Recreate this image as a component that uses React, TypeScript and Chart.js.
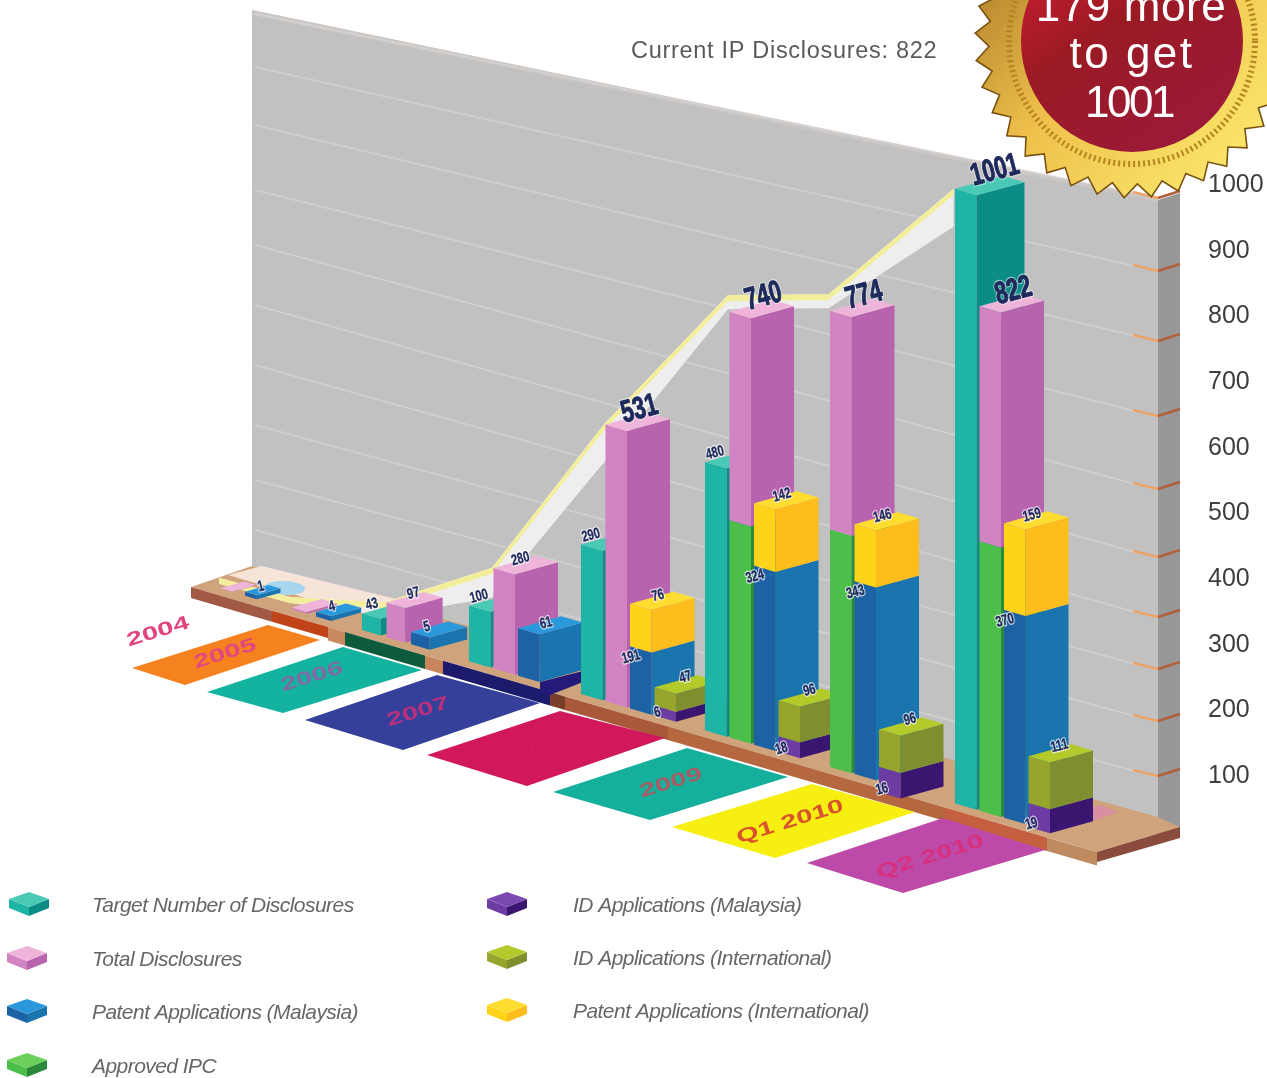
import React, { useEffect, useRef } from "react";
import { Chart, registerables } from "chart.js";

Chart.register(...registerables);

// ---------- data ----------
const categories = ["2004", "2005", "2006", "2007", "2008", "2009", "Q1 2010", "Q2 2010"];
const targetDisclosures = [null, null, 43, 100, 290, 480, null, 1001];
const totalDisclosures = [1, 4, 97, 280, 531, 740, 774, 822];
const approvedIpc = [0, 0, 0, 0, 0, 385, 405, 435];
const patentMalaysia = [1, 4, 5, 61, 191, 324, 343, 370];
const patentInternational = [null, null, null, null, 76, 142, 146, 159];
const idMalaysia = [null, null, null, null, 6, 18, 16, 19];
const idInternational = [null, null, null, null, 47, 96, 96, 111];
const milestoneLine = [1, 4, 97, 280, 531, 740, 774, 1001];
const yTickValues = [100, 200, 300, 400, 500, 600, 700, 800, 900, 1000];
const titleText = "Current IP Disclosures: 822";
const badgeLines = ["179 more", "to get", "1001"];

// ---------- drawing configuration (the picture is hand-drawn, several blocks are not to scale) ----------
const T = { left: "#1fb5a6", right: "#0c8c86", top: "#49c9b6" };
const P = { left: "#d283c1", right: "#b863ad", top: "#eeb4da" };
const G = { left: "#4bbf4a", right: "#2b8a3a", top: "#6ccf5a" };
const B = { left: "#1d62a4", right: "#1a74ad", top: "#2b98dc" };
const Y = { left: "#ffd31a", right: "#fdbd1d", top: "#ffdc30" };
const V = { left: "#6d3ca2", right: "#3b1670", top: "#7b4ab0" };
const O = { left: "#98a52c", right: "#7f8f30", top: "#b4c92a" };

const drawScale: Record<string, number[]> = {
  target: [1, 1, 0.8, 1.1, 0.97, 1, 1, 1],
  ipc: [1, 1, 1, 1, 1, 1, 1, 1],
  total: [1, 1, 0.73, 0.7, 0.97, 1.04, 1.01, 0.98],
  patM: [9, 2.5, 5, 1.5, 0.6, 0.97, 0.95, 0.9],
  patI: [1, 1, 1, 1, 1.03, 0.77, 0.66, 0.87],
  idM: [1, 1, 1, 1, 3.1, 1.5, 2.66, 2],
  idI: [1, 1, 1, 1, 0.7, 0.65, 0.65, 0.67],
};
const idBaseShift = [0, 0, 0, 0, 0, 0, 11, 2];
const ribbonLift = [10, 10, 0, 0, 0, 8, 14, 0];
const ribbonDrop = [6, 6, 14, 30, 38, 14, 14, 38];
const catAnchor = [245, 316, 411, 518, 630, 754, 854.5, 1004];
const catDepth = [0.55, 0.7, 0.87, 1, 1, 1, 1, 1];

const patches: [string, number[][]][] = [
  ["rgba(0,0,0,0)", [[0, 0], [0, 0], [0, 0], [0, 0]]],
  ["#f5821f", [[132, 668], [268, 625], [320, 640], [185, 685]]],
  ["#14b3a0", [[207, 692], [343, 647], [422, 670], [283, 713]]],
  ["#35409a", [[305, 720], [437, 675], [540, 703], [403, 750]]],
  ["#d0185a", [[427, 755], [560, 711], [665, 738], [527, 786]]],
  ["#14b09c", [[553, 792], [687, 748], [788, 777], [650, 820]]],
  ["#f7ee12", [[672, 827], [812, 784], [915, 812], [775, 858]]],
  ["#bd4aa8", [[807, 863], [943, 818], [1045, 850], [903, 893]]],
];
const patchText: [number, number, string][] = [
  [158, 632, "#e0457f"],
  [225, 654, "#e2487f"],
  [312, 677, "#7f6aa4"],
  [418, 712, "#b8307e"],
  [545, 748, "#d21a5c"],
  [671, 783, "#a85c66"],
  [790, 822, "#d8522c"],
  [930, 857, "#d8307e"],
];
const stripSegs: [number, number, string][] = [
  [191, 272, "#a35a45"], [272, 328, "#c0431a"], [328, 345, "#c98a60"], [345, 425, "#0e5a3c"],
  [425, 443, "#c8855c"], [443, 550, "#1c1a6a"], [550, 565, "#7a3f2a"], [565, 668, "#a9583a"],
  [668, 945, "#b5673f"], [945, 1047, "#c4603f"], [1047, 1097, "#c08a60"],
];
const wallTickY = [775, 720, 668, 616, 556, 488, 415, 340, 270, 197];
const wallLeftY = [530, 480, 425, 365, 305, 245, 190, 125, 67, 14];

const edgeY = (x: number) => 587 + 0.2925 * (x - 191);
const baseY = (x: number) => edgeY(x) - 7;
const unitPx = (x: number) => 0.614 - 0.00022 * (955 - x);
const FONT = '"Liberation Sans", Arial, sans-serif';

function poly(ctx: CanvasRenderingContext2D, pts: number[][], fill: string) {
  ctx.beginPath();
  pts.forEach((p, i) => (i ? ctx.lineTo(p[0], p[1]) : ctx.moveTo(p[0], p[1])));
  ctx.closePath();
  ctx.fillStyle = fill;
  ctx.fill();
}

function valueLabel(ctx: CanvasRenderingContext2D, s: string, x: number, y: number, big: boolean) {
  ctx.save();
  ctx.translate(x, y);
  ctx.rotate(-0.26);
  if (big) {
    ctx.scale(0.92, 1.3);
    ctx.font = `bold 24px ${FONT}`;
  } else {
    ctx.scale(0.92, 1.25);
    ctx.font = `bold 12px ${FONT}`;
  }
  ctx.textAlign = "center";
  ctx.textBaseline = "middle";
  ctx.lineJoin = "round";
  ctx.strokeStyle = big ? "rgba(255,255,255,0.5)" : "rgba(255,255,255,0.7)";
  ctx.lineWidth = big ? 2.6 : 2.4;
  ctx.strokeText(s, 0, 0);
  ctx.strokeStyle = "#1e2a5c";
  ctx.lineWidth = big ? 0.8 : 0.25;
  ctx.strokeText(s, 0, 0);
  ctx.fillStyle = "#1e2a5c";
  ctx.fillText(s, 0, 0);
  ctx.restore();
}

const scenePlugin = {
  id: "scene",
  beforeDatasetsDraw(chart: any) {
    const ctx: CanvasRenderingContext2D = chart.ctx;
    const yS = chart.scales.y;
    const xS = chart.scales.x;
    const zero = yS.getPixelForValue(0);
    const flatUnit = (zero - yS.getPixelForValue(1000)) / 1000;
    const toH = (flat: number, x: number) => (flat / flatUnit) * unitPx(x);

    // wall
    poly(ctx, [[252, 10], [1158, 200], [1158, 820], [252, 566]], "#c1c1c1");
    poly(ctx, [[252, 10], [1158, 198], [1158, 202], [252, 15]], "#cdc7c4");
    poly(ctx, [[1158, 200], [1180, 193], [1180, 827], [1158, 834]], "#989898");
    // grid lines follow the y axis ticks
    yS.ticks.forEach((t: any) => {
      const idx = yTickValues.indexOf(t.value);
      if (idx < 0) return;
      ctx.beginPath();
      ctx.moveTo(255, wallLeftY[idx]);
      ctx.lineTo(1135, wallTickY[idx] - 4);
      ctx.strokeStyle = "rgba(215,215,215,0.6)";
      ctx.lineWidth = 2;
      ctx.stroke();
      ctx.beginPath();
      ctx.moveTo(1133, wallTickY[idx] - 5);
      ctx.lineTo(1158, wallTickY[idx] + 1);
      ctx.strokeStyle = "#eda468";
      ctx.lineWidth = 2.6;
      ctx.stroke();
      ctx.beginPath();
      ctx.moveTo(1158, wallTickY[idx] + 1);
      ctx.lineTo(1180, wallTickY[idx] - 6);
      ctx.strokeStyle = "#b0603a";
      ctx.stroke();
    });

    // floor
    poly(ctx, [[191, 587], [252, 566], [1158, 817], [1180, 827], [1097, 852]], "#cfa37c");
    poly(ctx, [[1097, 852], [1180, 827], [1180, 838], [1097, 862]], "#8a4a3c");
    poly(ctx, [[228, 575], [262, 566], [412, 603], [350, 611]], "#f6e4d8");
    poly(ctx, [[1090, 822], [1118, 812], [1100, 805], [1078, 812]], "#d98fa2");
    ctx.beginPath();
    ctx.ellipse(285, 588, 20, 7, 0.05, 0, Math.PI * 2);
    ctx.fillStyle = "#a8d6ee";
    ctx.fill();
    stripSegs.forEach(([a, b, c]) => {
      const th = a < 300 ? 11 : 13.5;
      poly(ctx, [[a, edgeY(a)], [b, edgeY(b)], [b, edgeY(b) + th], [a, edgeY(a) + th]], c);
    });
    poly(ctx, [[540, 682], [583, 671], [583, 682], [550, 695], [540, 692]], "#241a7a");

    // floor patches with category labels
    categories.forEach((c, i) => {
      poly(ctx, patches[i][1], patches[i][0]);
      const [px, py, col] = patchText[i];
      ctx.save();
      ctx.translate(px, py);
      ctx.rotate(-0.3);
      ctx.scale(1.45, 0.95);
      ctx.font = `bold 20px ${FONT}`;
      ctx.textAlign = "center";
      ctx.textBaseline = "middle";
      ctx.fillStyle = col;
      ctx.fillText(c, 0, 0);
      ctx.restore();
    });

    // milestone ribbon (line dataset)
    const lineMeta = chart.getDatasetMeta(7);
    const pts = lineMeta.data.map((pt: any, i: number) => {
      const sx = catAnchor[i] + (i === 7 ? -50.5 : -26);
      const scale = i === 7 ? 1 : drawScale.total[i];
      return [sx, baseY(sx) - toH(zero - pt.y, sx) * scale - ribbonLift[i]];
    });
    const band = (off: (i: number) => number, fill: string) => {
      const low = pts.map((p: number[], i: number) => [p[0], p[1] + off(i)]).reverse();
      poly(ctx, [...pts, ...low], fill);
    };
    band((i) => ribbonDrop[i], "rgba(240,240,240,0.95)");
    band(() => 6, "#f3ee9c");

    // bars: read from the bar elements of the chart and projected on the floor
    const stacks: { key: string; idx: number; colors: any }[][] = [
      [{ key: "target", idx: 0, colors: T }],
      [{ key: "ipc", idx: 1, colors: G }, { key: "total", idx: 2, colors: P }],
      [{ key: "patM", idx: 3, colors: B }, { key: "patI", idx: 4, colors: Y }],
      [{ key: "idM", idx: 5, colors: V }, { key: "idI", idx: 6, colors: O }],
    ];
    const labels: [string, number, number, boolean][] = [];
    categories.forEach((_c, i) => {
      stacks.forEach((stack, sIdx) => {
        let acc = 0;
        const present = stack.filter((s) => {
          const v = chart.data.datasets[s.idx].data[i];
          return v !== null && v !== 0;
        });
        present.forEach((s, pi) => {
          const el = chart.getDatasetMeta(s.idx).data[i];
          const center = xS.getPixelForValue(i);
          const xl = catAnchor[i] + (el.x - el.width / 2 - center) - 1.5;
          const f = catDepth[i];
          const w = el.width * f;
          const dep = s.key === "target" ? [48 * f, -13 * f] : [43 * f, -12 * f];
          const hB = acc;
          const hT = acc + toH(el.base - el.y, xl) * drawScale[s.key][i];
          acc = hT;
          const shift = sIdx === 3 ? idBaseShift[i] : 0;
          const bl = baseY(xl) + shift;
          const br = baseY(xl + w) + shift;
          const aB = [xl, bl - hB], cB = [xl + w, br - hB], eB = [xl + w + dep[0], br - hB + dep[1]];
          const aT = [xl, bl - hT], cT = [xl + w, br - hT], eT = [xl + w + dep[0], br - hT + dep[1]];
          poly(ctx, [aB, cB, cT, aT], s.colors.left);
          poly(ctx, [cB, eB, eT, cT], s.colors.right);
          if (pi === present.length - 1) {
            poly(ctx, [aT, cT, eT, [xl + dep[0], bl - hT + dep[1]]], s.colors.top);
          }
          // value labels
          const raw = s.key === "total" ? totalDisclosures[i] : (chart.data.datasets[s.idx].data[i] as number);
          const txt = String(raw);
          const tx = aT[0], ty = aT[1];
          if (s.key === "target") {
            if (raw > 1000) labels.push([txt, tx + 40, ty - 18, true]);
            else labels.push([txt, tx + 10, ty - 9, false]);
          } else if (s.key === "total") {
            if (raw >= 500) labels.push([txt, tx + 34, ty - 15, true]);
            else if (raw >= 50) labels.push([txt, tx + 27, ty - 9, false]);
          } else if (s.key === "patM") {
            if (raw >= 100) labels.push([txt, tx + 1, ty + 11, false]);
            else labels.push([txt, tx + 16 + (raw > 50 ? 12 : 0), ty - 5, false]);
          } else if (s.key === "patI") {
            labels.push([txt, tx + 28, ty - 8, false]);
          } else if (s.key === "idI") {
            labels.push([txt, tx + 31, ty - 10, false]);
          } else if (s.key === "idM") {
            labels.push([txt, tx + 3, bl - 3, false]);
          }
        });
      });
    });
    labels.forEach(([s, x, y, big]) => valueLabel(ctx, s, x, y, big));

    // title
    ctx.font = `23.5px ${FONT}`;
    ctx.textAlign = "left";
    ctx.textBaseline = "alphabetic";
    ctx.fillStyle = "#5a5a5a";
    (ctx as any).letterSpacing = "0.7px";
    ctx.fillText(titleText, 631, 58);
    (ctx as any).letterSpacing = "0px";

    // legend
    const legendOrder: [number, number, number, any][] = [
      [0, 29, 904, T], [2, 27, 958, P], [3, 27, 1011, B], [1, 27, 1065, G],
      [5, 507, 904, V], [6, 507, 957, O], [4, 507, 1010, Y],
    ];
    legendOrder.forEach(([ds, cx, cy, c]) => {
      const tx = cx < 100 ? 92 : 573;
      poly(ctx, [[cx - 20, cy - 5], [cx, cy + 3], [cx, cy + 12], [cx - 20, cy + 4]], c.left);
      poly(ctx, [[cx + 20, cy - 5], [cx, cy + 3], [cx, cy + 12], [cx + 20, cy + 4]], c.right);
      poly(ctx, [[cx - 20, cy - 5], [cx, cy - 12], [cx + 20, cy - 5], [cx, cy + 3]], c.top);
      ctx.font = `italic 21px ${FONT}`;
      ctx.fillStyle = "#666666";
      (ctx as any).letterSpacing = "-0.55px";
      ctx.fillText(chart.data.datasets[ds].label, tx, cy + 8);
      (ctx as any).letterSpacing = "0px";
    });

    // gold seal
    const cx = 1132, cy = 41;
    const n = 36;
    ctx.beginPath();
    for (let i = 0; i < n * 2; i++) {
      const r = i % 2 ? 143 : 157;
      const a = (i * Math.PI) / n + 0.05;
      const px = cx + r * Math.cos(a), py = cy + r * Math.sin(a);
      if (i) ctx.lineTo(px, py);
      else ctx.moveTo(px, py);
    }
    ctx.closePath();
    const gold = ctx.createLinearGradient(cx - 130, cy - 100, cx + 110, cy + 130);
    gold.addColorStop(0, "#b07f2c");
    gold.addColorStop(0.45, "#eec04a");
    gold.addColorStop(1, "#fbe86c");
    ctx.fillStyle = gold;
    ctx.fill();
    ctx.strokeStyle = "#7a5212";
    ctx.lineWidth = 1.6;
    ctx.stroke();
    ctx.beginPath();
    ctx.arc(cx, cy, 123, 0, Math.PI * 2);
    ctx.strokeStyle = "#b5831f";
    ctx.lineWidth = 6;
    ctx.setLineDash([2, 3]);
    ctx.stroke();
    ctx.setLineDash([]);
    ctx.beginPath();
    ctx.arc(cx, cy, 111, 0, Math.PI * 2);
    const red = ctx.createLinearGradient(cx - 90, cy - 80, cx + 40, cy + 110);
    red.addColorStop(0, "#c61e2e");
    red.addColorStop(0.4, "#9a1a24");
    red.addColorStop(1, "#9b1a38");
    ctx.fillStyle = red;
    ctx.fill();
    ctx.fillStyle = "#ffffff";
    ctx.font = `44px ${FONT}`;
    ctx.textAlign = "center";
    const spacing = ["0.6px", "2.5px", "-2.5px"];
    const baselines = [21, 68, 117];
    const nudge = [-1, 0, -3];
    badgeLines.forEach((l, i) => {
      (ctx as any).letterSpacing = spacing[i];
      ctx.fillText(l, cx + nudge[i], baselines[i]);
    });
    (ctx as any).letterSpacing = "0px";
    return false;
  },
};

export default function App() {
  const ref = useRef<HTMLCanvasElement>(null);
  useEffect(() => {
    document.body.style.margin = "0";
    document.body.style.overflow = "hidden";
    const chart = new Chart(ref.current as HTMLCanvasElement, {
      type: "bar",
      data: {
        labels: categories,
        datasets: [
          { label: "Target Number of Disclosures", data: targetDisclosures, stack: "target", backgroundColor: T.left },
          { label: "Approved IPC", data: approvedIpc, stack: "total", backgroundColor: G.left },
          {
            label: "Total Disclosures",
            data: totalDisclosures.map((t, i) => [approvedIpc[i], t]),
            stack: "total",
            backgroundColor: P.left,
          },
          { label: "Patent Applications (Malaysia)", data: patentMalaysia, stack: "patent", backgroundColor: B.left },
          { label: "Patent Applications (International)", data: patentInternational, stack: "patent", backgroundColor: Y.left },
          { label: "ID Applications (Malaysia)", data: idMalaysia, stack: "id", backgroundColor: V.left },
          { label: "ID Applications (International)", data: idInternational, stack: "id", backgroundColor: O.left },
          { type: "line", label: "Milestones", data: milestoneLine, stack: "line", borderColor: "#f3ee9c" },
        ] as any,
      },
      options: {
        responsive: false,
        animation: false,
        layout: { padding: { left: 232, top: 185, bottom: 236, right: 0 } },
        categoryPercentage: 0.81,
        barPercentage: 0.878,
        plugins: { legend: { display: false }, tooltip: { enabled: false } },
        scales: {
          x: { display: false, stacked: true },
          y: {
            position: "right",
            stacked: true,
            min: 0,
            max: 1000,
            grid: { display: false, drawTicks: false },
            border: { display: false },
            afterFit: (s: any) => {
              s.width = 67;
            },
            ticks: {
              stepSize: 100,
              padding: 8,
              color: "#3e3e3e",
              font: { family: "Liberation Sans", size: 25 },
              callback: (v: any) => (yTickValues.includes(v) ? String(v) : ""),
            },
          },
        },
      } as any,
      plugins: [scenePlugin as any],
    });
    return () => chart.destroy();
  }, []);
  return (
    <div style={{ position: "absolute", left: 0, top: 0, width: 1267, height: 1078, background: "#fff" }}>
      <canvas ref={ref} width={1267} height={1078} style={{ display: "block" }} />
    </div>
  );
}
